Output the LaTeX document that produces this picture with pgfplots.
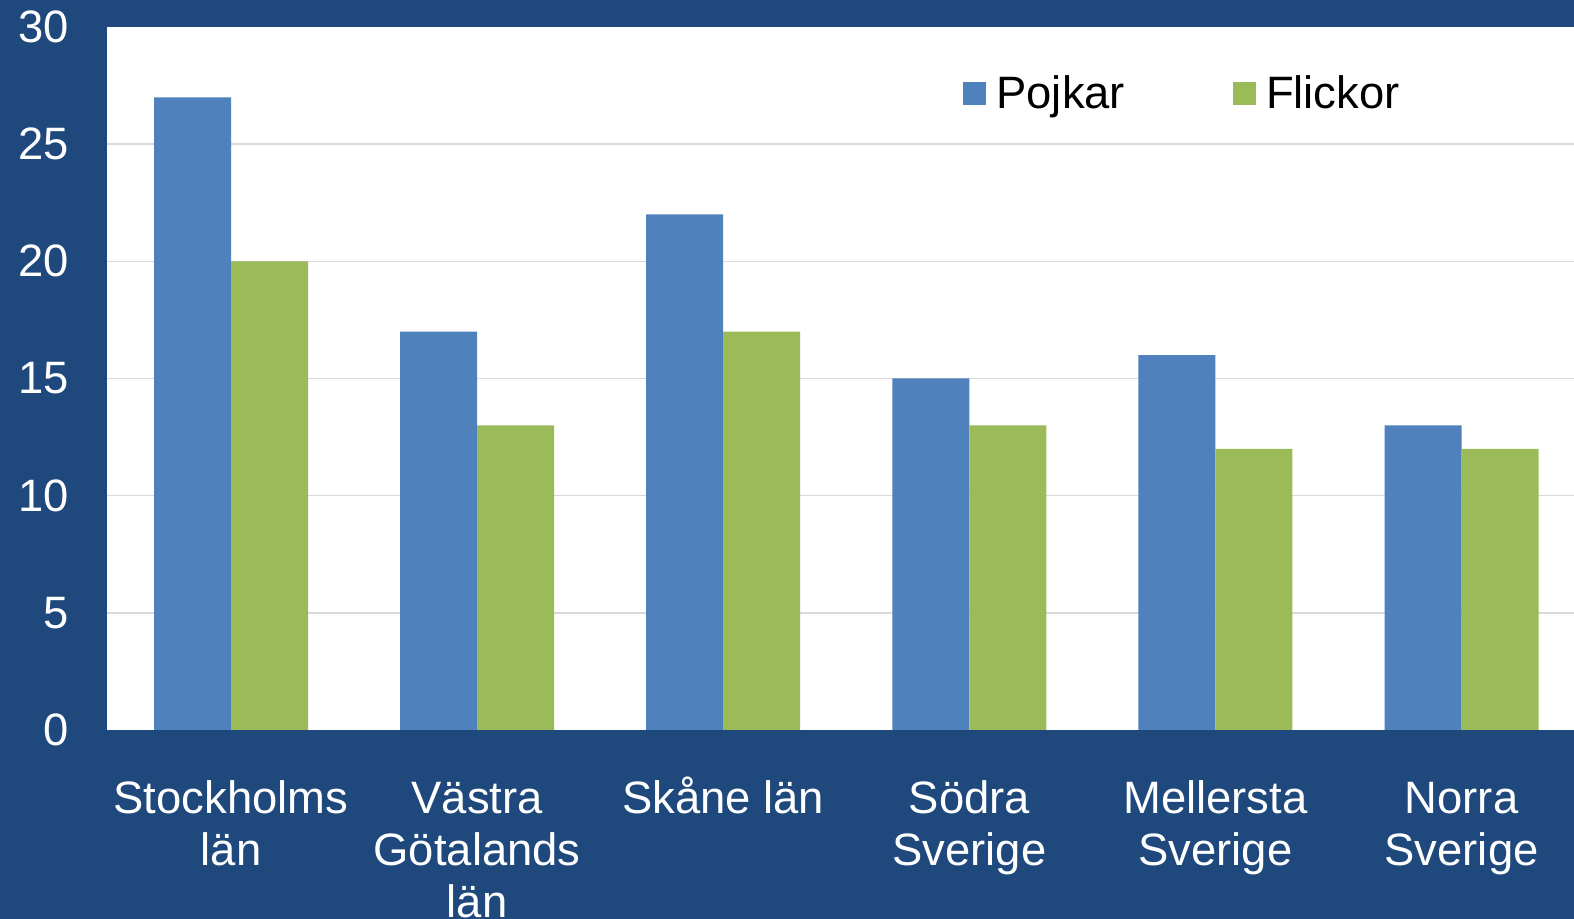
\documentclass[border=0pt]{standalone}
\usepackage{fontspec}
\setmainfont{Liberation Sans}
\usepackage{pgfplots}
\pgfplotsset{compat=1.18}
\definecolor{bg}{RGB}{31,73,125}
\definecolor{pblue}{RGB}{79,129,189}
\definecolor{fgreen}{RGB}{155,187,89}
\definecolor{gridc}{RGB}{217,217,217}
\begin{document}
\begin{tikzpicture}
\fill[bg] (-53.5pt,-94.5pt) rectangle (733.5pt,365pt);
\useasboundingbox (-53.5pt,-94.5pt) rectangle (733.5pt,365pt);
\begin{axis}[
  at={(0pt,0pt)}, anchor=south west,
  scale only axis, width=733.5pt, height=351.5pt,
  xmin=-0.504, xmax=5.457, ymin=0, ymax=30,
  ytick={0,5,...,30},
  extra y ticks={5,10,15,20,25},
  extra y tick labels={},
  extra y tick style={grid=major},
  grid style={gridc, line width=0.75pt},
  xtick={0,1,2,3,4,5},
  xticklabels={{\rule{0pt}{19pt}Stockholms\\län},{\rule{0pt}{19pt}Västra\\Götalands\\län},{\rule{0pt}{19pt}Skåne län},{\rule{0pt}{19pt}Södra\\Sverige},{\rule{0pt}{19pt}Mellersta\\Sverige},{\rule{0pt}{19pt}Norra\\Sverige}},
  axis line style={draw=none},
  major tick length=0pt,
  axis background/.style={fill=white},
  /pgf/number format/assume math mode=true,
  y tick label style={font=\fontsize{22.7}{26}\selectfont, text=white, inner sep=0pt, anchor=east, xshift=-19pt},
  x tick label style={font=\fontsize{22.7}{26}\selectfont, text=white, inner sep=0pt, align=center, anchor=north, yshift=-22.7pt},
  ybar=0pt, bar width=38.5pt,
  legend columns=2,
  legend style={at={(rel axis cs:0.5835,0.9055)}, anchor=west, draw=none, fill=none, inner sep=0pt,
    font=\fontsize{22.7}{26}\selectfont,
    /tikz/every even column/.append style={column sep=52pt},
    /tikz/every odd column/.append style={column sep=3pt}},
  legend image code/.code={\fill[#1,draw=none] (0pt,-5.75pt) rectangle (11.5pt,5.75pt);},
]
\addplot[fill=pblue, draw=none] coordinates {(0,27) (1,17) (2,22) (3,15) (4,16) (5,13)};
\addplot[fill=fgreen, draw=none] coordinates {(0,20) (1,13) (2,17) (3,13) (4,12) (5,12)};
\legend{Pojkar, Flickor}
\end{axis}
\end{tikzpicture}
\end{document}
